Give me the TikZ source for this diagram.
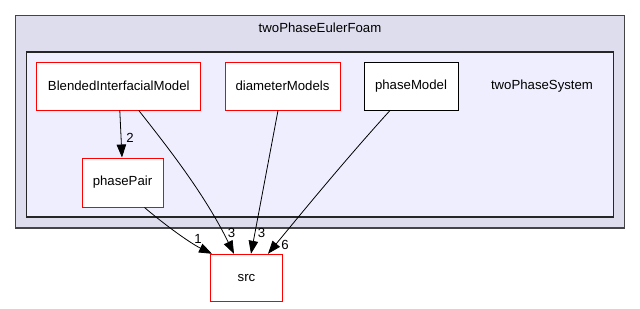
\documentclass[tikz,border=0pt]{standalone}
\usepackage{fontspec}
\setmainfont{Liberation Sans}
\usepackage{xcolor}
\usetikzlibrary{arrows.meta,positioning}
\definecolor{dirOuter}{HTML}{DDDDEE}
\definecolor{dirInner}{HTML}{EEEEFF}
\definecolor{dirEdge}{HTML}{444444}
\definecolor{dirRed}{HTML}{FF0000}

\begin{document}
\begin{tikzpicture}[
  x=1pt,y=-1pt,
  every node/.style={font=\fontsize{13.2}{15}\selectfont},
  outerdir/.style={
    draw=dirEdge,
    line width=1.6pt,
    fill=dirOuter,
    minimum width=609pt,
    minimum height=212.5pt
  },
  innerdir/.style={
    draw=black!85,
    line width=1.2pt,
    fill=dirInner,
    minimum width=587pt,
    minimum height=165pt
  },
  pkg/.style={
    draw=dirRed,
    line width=1pt,
    fill=white,
    minimum height=48pt,
    align=center
  },
  pkgplain/.style={pkg,draw=black},
  arrow/.style={-{Triangle[length=13pt,width=9.5pt]},line width=0.8pt,black},
  count/.style={inner sep=0pt}
]
  \useasboundingbox (0,0) rectangle (640,308);

  \node[outerdir] (eulerFoam) at (320,121.8) {};
  \node (eulerFoamTitle) at (320,28) {twoPhaseEulerFoam};
  \node[innerdir] (system) at (320,134.4) {};
  \node (systemTitle) at (542,86) {twoPhaseSystem};

  \node[pkg,minimum width=164pt] (blended) at (118.8,86) {BlendedInterfacialModel};
  \node[pkg,minimum width=115pt] (diameter) at (282.5,86) {diameterModels};
  \node[pkgplain,minimum width=94pt] (phaseModel) at (411,86) {phaseModel};
  \node[pkg,minimum width=81pt,minimum height=49pt] (pairs) at (122.5,182.5) {phasePair};
  \node[pkg,minimum width=71.6pt,minimum height=47.4pt] (src) at (246.5,278) {src};

  \draw[arrow] ([xshift=1pt]blended.south) -- ([xshift=-0.5pt]pairs.north)
    node[count] at (130,137.5) {2};
  \draw[arrow] ([xshift=20pt]blended.south)
    .. controls (170,150) and (205,195) .. ([xshift=-12.5pt]src.north)
    node[count] at (231.5,233) {3};
  \draw[arrow] ([xshift=-4.5pt]diameter.south) -- ([xshift=4.5pt]src.north)
    node[count] at (261.5,233) {3};
  \draw[arrow] ([xshift=-21pt]phaseModel.south)
    .. controls (345,160) and (300,215) .. ([xshift=21.5pt]src.north)
    node[count] at (285,245) {6};
  \draw[arrow] ([xshift=22pt]pairs.south)
    .. controls (165,225) and (190,243) .. ([xshift=-34.5pt]src.north)
    node[count] at (198,239) {1};
\end{tikzpicture}
\end{document}
